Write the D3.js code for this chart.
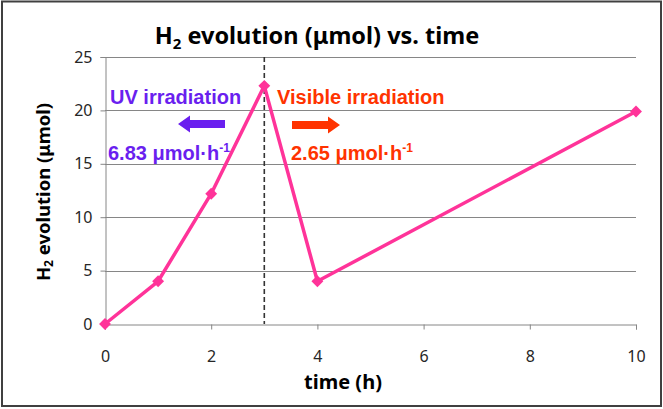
<!DOCTYPE html>
<html><head><meta charset="utf-8">
<script src="https://cdn.jsdelivr.net/npm/d3@7"></script>
<style>body{margin:0;background:#fff}svg{display:block}</style>
</head><body>
<script>
const times = [0, 1, 2, 3, 4, 10];
const h2Values = [0, 4.0, 12.2, 22.3, 4.0, 19.9];
const xTicks = [0, 2, 4, 6, 8, 10];
const yTicks = [0, 5, 10, 15, 20, 25];
const switchTime = 3;

const W = 663, H = 409;
const svg = d3.select("body").append("svg").attr("width", W).attr("height", H);
svg.append("rect").attr("x", 2).attr("y", 1.5).attr("width", 659).attr("height", 404.5)
  .attr("fill", "#fff").attr("stroke", "#404040").attr("stroke-width", 2);

const x = d3.scaleLinear().domain([0, 10]).range([105, 636]);
const y = d3.scaleLinear().domain([0, 25]).range([324, 57]);
const tickFont = "'Noto Sans', 'DejaVu Sans', sans-serif";

// gridlines
svg.append("g").selectAll("line").data(yTicks.filter(d => d > 0)).join("line")
  .attr("x1", x(0)).attr("x2", x(10)).attr("y1", d => Math.round(y(d)) + 0.5).attr("y2", d => Math.round(y(d)) + 0.5)
  .attr("stroke", "#868686").attr("stroke-width", 1);

// axes
const yAxis = svg.append("g").attr("transform", `translate(${x(0) + 0.5},0)`)
  .call(d3.axisLeft(y).tickValues(yTicks).tickSize(5).tickPadding(8));
const xAxis = svg.append("g").attr("transform", `translate(0,${Math.round(y(0)) + 0.5})`)
  .call(d3.axisBottom(x).tickValues(xTicks).tickSize(5).tickPadding(21));
[yAxis, xAxis].forEach(g => {
  g.select(".domain").attr("stroke", "#868686");
  g.selectAll(".tick line").attr("stroke", "#868686");
  g.selectAll("text").attr("font-family", tickFont).attr("font-size", 16).attr("fill", "#262626");
});

// dashed switch line
svg.append("line").attr("x1", x(switchTime)).attr("x2", x(switchTime))
  .attr("y1", y(25)).attr("y2", y(0))
  .attr("stroke", "#333").attr("stroke-width", 1.6).attr("stroke-dasharray", "5,3");

// data line
const pts = times.map((t, i) => [t, h2Values[i]]);
svg.append("path").datum(pts)
  .attr("d", d3.line().x(d => x(d[0])).y(d => y(d[1])))
  .attr("fill", "none").attr("stroke", "#FF3399").attr("stroke-width", 3.5).attr("stroke-linejoin", "round");
svg.append("g").selectAll("path").data(pts).join("path")
  .attr("d", d3.symbol(d3.symbolDiamond2, 90))
  .attr("transform", d => `translate(${x(d[0])},${y(d[1])})`)
  .attr("fill", "#FF3399");

// titles
const boldFont = "'Liberation Sans', Arial, sans-serif";
const title = svg.append("text").attr("x", 317).attr("y", 44).attr("text-anchor", "middle")
  .attr("font-family", "'Noto Sans', sans-serif").attr("font-weight", "bold").attr("font-size", 23.5).attr("fill", "#000");
title.append("tspan").text("H");
title.append("tspan").attr("font-size", 15).attr("dy", 5).text("2");
title.append("tspan").attr("dy", -5).text(" evolution (μmol) vs. time");

svg.append("text").attr("x", 343).attr("y", 389).attr("text-anchor", "middle")
  .attr("font-family", "'Noto Sans', sans-serif").attr("font-weight", "bold").attr("font-size", 20)
  .text("time (h)");

const yt = svg.append("text").attr("transform", "translate(50,192) rotate(-90)").attr("text-anchor", "middle")
  .attr("font-family", "'Noto Sans', sans-serif").attr("font-weight", "bold").attr("font-size", 18.5);
yt.append("tspan").text("H");
yt.append("tspan").attr("font-size", 12).attr("dy", 3).text("2");
yt.append("tspan").attr("dy", -3).text(" evolution (μmol)");

// annotations
const purple = "#6A1FEF", red = "#FF3300";
svg.append("text").attr("x", 110).attr("y", 104).attr("font-family", boldFont).attr("font-weight", "bold")
  .attr("font-size", 20).attr("fill", purple).text("UV irradiation");
const t1 = svg.append("text").attr("x", 108).attr("y", 160).attr("font-family", boldFont).attr("font-weight", "bold")
  .attr("font-size", 20).attr("fill", purple);
t1.append("tspan").text("6.83 μmol·h");
t1.append("tspan").attr("font-size", 12).attr("dy", -8).text("-1");

svg.append("text").attr("x", 277).attr("y", 104).attr("font-family", boldFont).attr("font-weight", "bold")
  .attr("font-size", 20).attr("fill", red).text("Visible irradiation");
const t2 = svg.append("text").attr("x", 291).attr("y", 160).attr("font-family", boldFont).attr("font-weight", "bold")
  .attr("font-size", 20).attr("fill", red);
t2.append("tspan").text("2.65 μmol·h");
t2.append("tspan").attr("font-size", 12).attr("dy", -8).text("-1");

function arrow(x0, x1, yc, color) {
  const dir = Math.sign(x1 - x0), hl = 12, sw = 4, hw = 8.5;
  const xb = x1 - dir * hl;
  const p = [[x0, yc - sw], [xb, yc - sw], [xb, yc - hw], [x1, yc], [xb, yc + hw], [xb, yc + sw], [x0, yc + sw]];
  svg.append("path").attr("d", "M" + p.join("L") + "Z").attr("fill", color);
}
arrow(225, 178, 124, purple);
arrow(292, 340, 125, red);
</script>
</body></html>
